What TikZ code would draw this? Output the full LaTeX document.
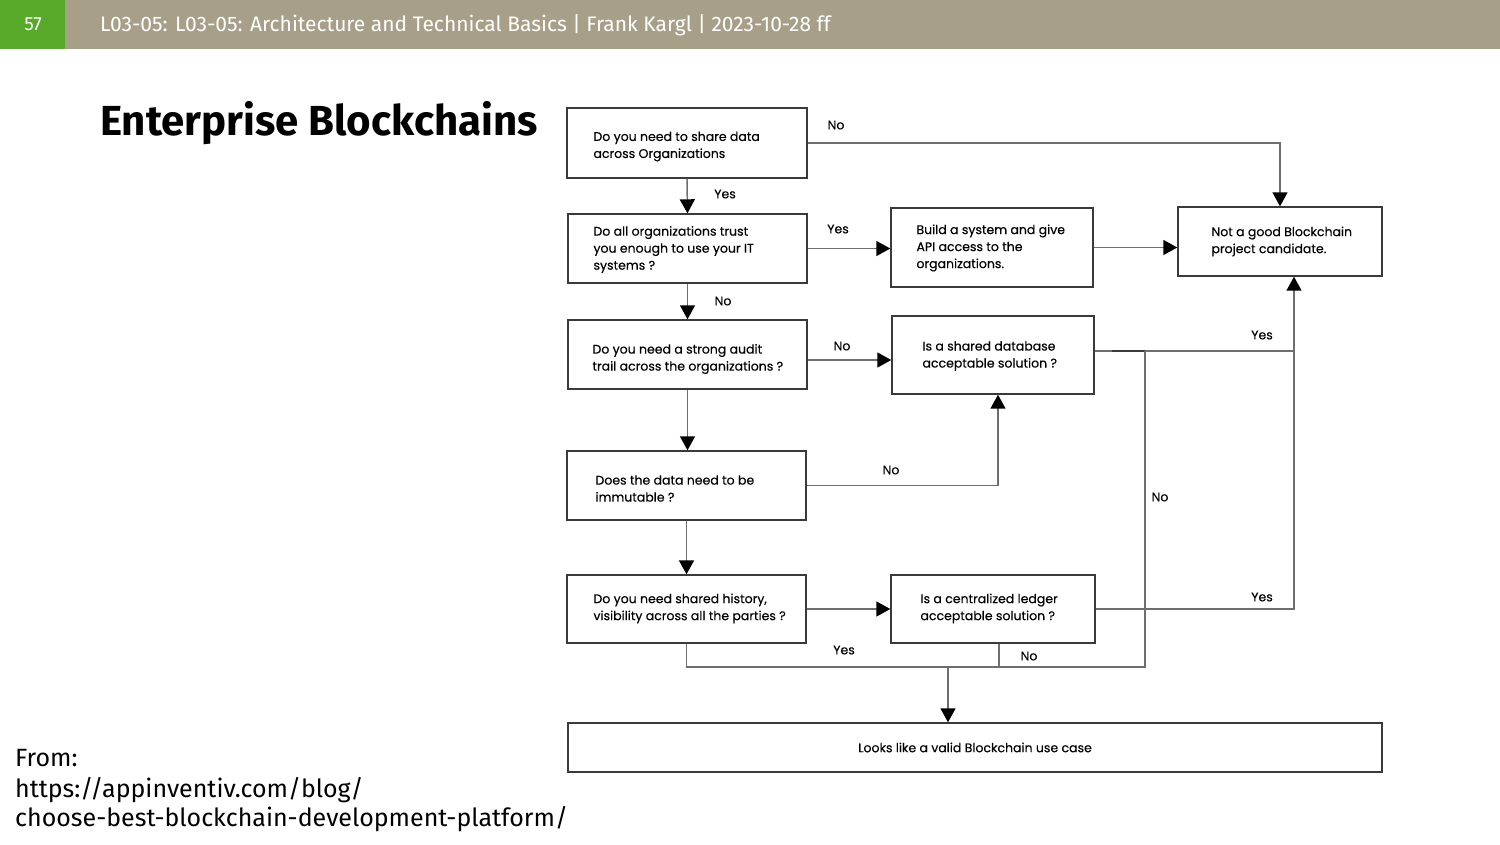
\documentclass[tikz,border=0pt]{standalone}
\usepackage{fontspec}
\setmainfont{Fira Sans}
\newfontfamily\flowfont[FakeBold=0.3]{Poppins}
\usetikzlibrary{arrows.meta}
\definecolor{headc}{HTML}{A89F89}
\definecolor{greenc}{HTML}{58A82A}
\definecolor{boxc}{HTML}{3A3A3A}
\definecolor{linec}{HTML}{6E6E6E}
\tikzset{
  box/.style={draw=boxc, line width=1.4pt, inner sep=0pt},
  txt/.style={anchor=west, inner sep=0pt, align=left,
    font=\flowfont\fontsize{12.5}{17}\selectfont},
  conn/.style={draw=linec, line width=1.5pt},
  arr/.style={conn, -{Triangle[length=14pt,width=15pt,color=black]}},
  lbl/.style={font=\flowfont\fontsize{12.5}{15}\selectfont, inner sep=0pt},
  src/.style={anchor=base west, inner sep=0pt, font=\fontsize{25}{28}\selectfont}
}
\begin{document}
\begin{tikzpicture}[x=1pt,y=-1pt]
\useasboundingbox (0,0) rectangle (1500,844);
% header bar
\fill[headc] (0,0) rectangle (1500,49);
\fill[greenc] (0,0) rectangle (65,49);
\node[text=white, font=\fontsize{19}{22}\selectfont] (pg) at (33,24) {57};
\node[text=white, anchor=base west, inner sep=0pt, font=\fontsize{21}{24}\selectfont] (hd) at (100,31)
  {L03-05: L03-05: Architecture and Technical Basics | Frank Kargl | 2023-10-28 ff};
% title
\node[anchor=base west, inner sep=0pt, font=\bfseries\fontsize{42}{48}\selectfont] (title) at (100,135) {Enterprise Blockchains};
% source
\node[src] (src1) at (15,766) {From:};
\node[src] (src2) at (15,797) {https://appinventiv.com/blog/};
\node[src] (src3) at (15,826) {choose-best-blockchain-development-platform/};

% flowchart boxes
\node[box, minimum width=240, minimum height=70] (B1) at (687,143) {};
\node[box, minimum width=239, minimum height=69] (B2) at (687.5,248.5) {};
\node[box, minimum width=202, minimum height=79] (B3) at (992,247.5) {};
\node[box, minimum width=204, minimum height=69] (B4) at (1280,241.5) {};
\node[box, minimum width=239, minimum height=69] (B5) at (687.5,354.5) {};
\node[box, minimum width=202, minimum height=78] (B6) at (993,355) {};
\node[box, minimum width=239, minimum height=69] (B7) at (686.5,485.5) {};
\node[box, minimum width=239, minimum height=68] (B8) at (686.5,609) {};
\node[box, minimum width=204, minimum height=68] (B9) at (993,609) {};
\node[box, minimum width=814, minimum height=49] (B10) at (975,747.5) {};

% box texts
\node[txt] (t1) at ([xshift=27pt,yshift=-3.5pt]B1.west) {Do you need to share data\\across Organizations};
\node[txt] (t2) at ([xshift=26pt,yshift=-1pt]B2.west) {Do all organizations trust\\you enough to use your IT\\systems ?};
\node[txt] (t3) at ([xshift=26pt,yshift=-0.5pt]B3.west) {Build a system and give\\API access to the\\organizations.};
\node[txt] (t4) at ([xshift=34pt,yshift=0pt]B4.west) {Not a good Blockchain\\project candidate.};
\node[txt] (t5) at ([xshift=25pt,yshift=-4.5pt]B5.west) {Do you need a strong audit\\trail across the organizations ?};
\node[txt] (t6) at ([xshift=31pt,yshift=-1pt]B6.west) {Is a shared database\\acceptable solution ?};
\node[txt] (t7) at ([xshift=29pt,yshift=-3pt]B7.west) {Does the data need to be\\immutable ?};
\node[txt] (t8) at ([xshift=27pt,yshift=0.5pt]B8.west) {Do you need shared history,\\visibility across all the parties ?};
\node[txt] (t9) at ([xshift=30pt,yshift=0.5pt]B9.west) {Is a centralized ledger\\acceptable solution ?};
\node[txt, anchor=center] (t10) at (B10.center) {Looks like a valid Blockchain use case};

% bend points
\coordinate (j1) at (1294,351);
\coordinate (j2) at (1145,351);
\coordinate (j2a) at (1112,351);
\coordinate (j3) at (1145,667);
\coordinate (j4) at (948,667);
\coordinate (c5) at (807,360);
\coordinate (c7) at (998,485.5);
\coordinate (c9) at (999,667);

% connectors
\draw[arr] (B1.east) -| (B4.north);
\draw[arr] (B1.south) -- (B2.north);
\draw[arr] (B2.east) -- (B3.west |- B2.east);
\draw[arr] (B3.east) -- (B4.west |- B3.east);
\draw[arr] (B2.south) -- (B5.north);
\draw[arr] (B5.east |- c5) -- (B6.west |- c5);
\draw[arr] (B5.south) -- (B7.north -| B5.south);
\draw[arr] (B7.east) -- (c7) -- (B6.south -| c7);
\draw[arr] (B6.east |- j1) -- (j1) -- (B4.south -| j1);
\draw[conn] (B9.east) -| (j1);
\draw[conn, draw=boxc] (j2a) -- (j2);
\draw[conn] (j2) -- (j3) -- (B8.south |- j3) -- (B8.south);
\draw[conn] (B9.south -| c9) -- (c9);
\draw[arr] (B7.south) -- (B8.north);
\draw[arr] (B8.east) -- (B9.west |- B8.east);
\draw[arr] (j4) -- (B10.north -| j4);

% branch labels
\node[lbl] (l1) at (836,125) {No};
\node[lbl] (l2) at (725,194) {Yes};
\node[lbl] (l3) at (838,229) {Yes};
\node[lbl] (l4) at (723,301) {No};
\node[lbl] (l5) at (842,346) {No};
\node[lbl] (l6) at (891,470) {No};
\node[lbl] (l7) at (1262,335) {Yes};
\node[lbl] (l8) at (1160,497) {No};
\node[lbl] (l9) at (1262,597) {Yes};
\node[lbl] (l10) at (844,650) {Yes};
\node[lbl] (l11) at (1029,656) {No};
\end{tikzpicture}
\end{document}
